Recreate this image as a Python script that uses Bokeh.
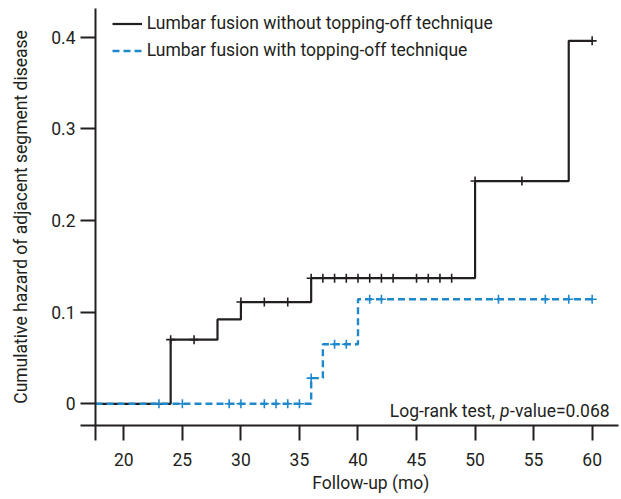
import numpy as np
from bokeh.plotting import figure
from bokeh.models import Range1d, FixedTicker, Legend, LegendItem, Label, Title
from bokeh.embed import file_html
from bokeh.resources import INLINE

# ---- data ----
black_t = [17.58, 24, 28, 30, 36, 50, 58, 60]
black_h = [0.0, 0.070, 0.092, 0.111, 0.137, 0.243, 0.396, 0.396]
black_cens = [24, 26, 30, 32, 34, 36, 37, 38, 39, 40, 41, 42, 43, 45, 46, 47, 48, 50, 54, 60]

blue_t = [17.58, 36, 37, 40, 60]
blue_h = [0.0, 0.028, 0.065, 0.114, 0.114]
blue_cens = [23, 25, 29, 30, 32, 33, 34, 35, 36, 38, 39, 41, 42, 52, 56, 58, 60]

x_ticks = [20, 25, 30, 35, 40, 45, 50, 55, 60]
y_ticks = [0, 0.1, 0.2, 0.3, 0.4]
y_tick_labels = ["0", "0.1", "0.2", "0.3", "0.4"]

label_black = "Lumbar fusion without topping-off technique"
label_blue = "Lumbar fusion with topping-off technique"
x_title = "Follow-up (mo)"
y_title = "Cumulative hazard of adjacent segment disease"
stat_a, stat_p, stat_b = "Log-rank test, ", "p", "-value=0.068"

X_START, X_END = 17.58, 62.25
Y_START, Y_END = -0.0237, 0.4313


def step_at(ts, hs, x):
    i = np.searchsorted(np.asarray(ts), np.asarray(x, dtype=float), side="right") - 1
    return list(np.asarray(hs)[i])


FONT = "Roboto"
FS = "17.5px"
INK = "#231f20"
BLUE = "#1e88cc"

p = figure(width=621, height=499, output_backend="svg", toolbar_location=None,
           x_range=Range1d(X_START, X_END), y_range=Range1d(Y_START, Y_END),
           min_border_left=95, min_border_right=3, min_border_top=8, min_border_bottom=74)
p.outline_line_color = None
p.grid.visible = False
p.background_fill_color = "white"
p.border_fill_color = "white"

for ax in (p.xaxis[0], p.yaxis[0]):
    ax.axis_line_color = INK
    ax.axis_line_width = 2
    ax.major_tick_line_color = INK
    ax.major_tick_line_width = 2
    ax.major_tick_out = 15
    ax.major_tick_in = 0
    ax.minor_tick_out = 0
    ax.minor_tick_in = 0
    ax.major_label_text_font = FONT
    ax.major_label_text_font_size = FS
    ax.major_label_text_color = INK

# an extra tick at each axis origin reproduces the crossing axis stubs
p.xaxis.ticker = FixedTicker(ticks=[X_START] + x_ticks)
p.xaxis.major_label_overrides = {X_START: ""}
p.yaxis.ticker = FixedTicker(ticks=[Y_START] + y_ticks)
y_over = {t: s for t, s in zip(y_ticks, y_tick_labels)}
y_over[Y_START] = ""
p.yaxis.major_label_overrides = y_over
p.xaxis.major_label_standoff = 12
p.yaxis.major_label_standoff = 5

p.yaxis.axis_label = y_title
p.yaxis.axis_label_text_font = FONT
p.yaxis.axis_label_text_font_size = FS
p.yaxis.axis_label_text_font_style = "normal"
p.yaxis.axis_label_text_color = INK
p.yaxis.axis_label_standoff = 17

r_black = p.step(black_t, black_h, mode="after", line_color=INK, line_width=2.2)
p.scatter(black_cens, step_at(black_t, black_h, black_cens), marker="cross", size=9,
          line_color=INK, line_width=1.6)
r_blue = p.step(blue_t, blue_h, mode="after", line_color=BLUE, line_width=2.4, line_dash="7 4")
p.scatter(blue_cens, step_at(blue_t, blue_h, blue_cens), marker="cross", size=9,
          line_color=BLUE, line_width=1.6)

legend = Legend(items=[LegendItem(label=label_black, renderers=[r_black]),
                       LegendItem(label=label_blue, renderers=[r_blue])],
                location=(16.7, 364.5), padding=0, margin=0, spacing=6,
                glyph_width=30, glyph_height=21, label_height=21, label_standoff=5,
                border_line_color=None, background_fill_alpha=0,
                label_text_font=FONT, label_text_font_size=FS, label_text_color=INK)
p.add_layout(legend, "center")

common = dict(x_units="screen", y_units="screen", text_font=FONT, text_font_size=FS,
              text_color=INK, text_baseline="alphabetic", text_align="left")
p.add_layout(Label(x=294.3, y=14.3, text=stat_a, **common))
p.add_layout(Label(x=404.6, y=14.3, text=stat_p, text_font_style="italic", **common))
p.add_layout(Label(x=414.6, y=14.3, text=stat_b, **common))

p.add_layout(Title(text=x_title, align="left", offset=216.7, standoff=5,
                   text_font=FONT, text_font_size=FS, text_color=INK,
                   text_font_style="normal"), "below")

open("out.html", "w").write(file_html(p, INLINE))
